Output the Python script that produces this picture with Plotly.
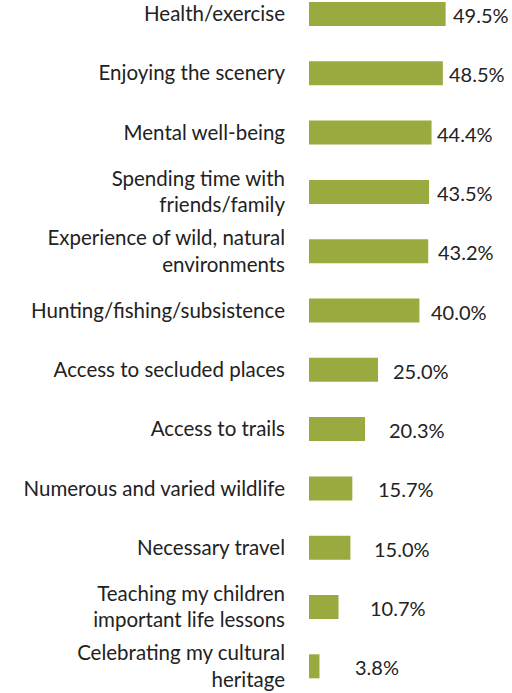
import plotly.graph_objects as go

# Reasons for visiting, share of respondents (%)
categories = [
    "Health/exercise",
    "Enjoying the scenery",
    "Mental well-being",
    "Spending time with<br>friends/family",
    "Experience of wild, natural<br>environments",
    "Hunting/fishing/subsistence",
    "Access to secluded places",
    "Access to trails",
    "Numerous and varied wildlife",
    "Necessary travel",
    "Teaching my children<br>important life lessons",
    "Celebrating my cultural<br>heritage",
]
values = [49.5, 48.5, 44.4, 43.5, 43.2, 40.0, 25.0, 20.3, 15.7, 15.0, 10.7, 3.8]
value_labels = ["49.5%", "48.5%", "44.4%", "43.5%", "43.2%", "40.0%",
                "25.0%", "20.3%", "15.7%", "15.0%", "10.7%", "3.8%"]

# horizontal gap (px) between each bar end and its value label
label_gap = [5, 4, 3, 6, 8, 10, 13, 22, 24, 22, 29, 34]

BAR_COLOR = "#9AAA3E"
TEXT_COLOR = "#222222"
FONT = "Lato"

fig = go.Figure(
    go.Bar(
        x=values,
        y=categories,
        orientation="h",
        marker=dict(color=BAR_COLOR, line=dict(width=0)),
        width=0.405,
        hoverinfo="skip",
    )
)

for cat, val, lab, gap in zip(categories, values, value_labels, label_gap):
    fig.add_annotation(
        x=val, y=cat, text=lab, showarrow=False,
        xanchor="left", yanchor="middle", xshift=gap, yshift=-1,
        font=dict(family=FONT, size=20, color=TEXT_COLOR),
    )

fig.update_layout(
    width=512, height=693,
    margin=dict(l=309, r=0, t=0, b=0),
    paper_bgcolor="white", plot_bgcolor="white",
    showlegend=False,
    font=dict(family=FONT, size=20.5, color=TEXT_COLOR),
    xaxis=dict(range=[0, 73.55], visible=False, fixedrange=True),
    yaxis=dict(
        type="category",
        range=[11.45, -0.236],
        showgrid=False, zeroline=False, showline=False,
        ticks="", ticklabelstandoff=23,
        tickfont=dict(family=FONT, size=20.5, color=TEXT_COLOR),
        fixedrange=True,
    ),
)

fig.write_html("out.html", config={"displayModeBar": False})
